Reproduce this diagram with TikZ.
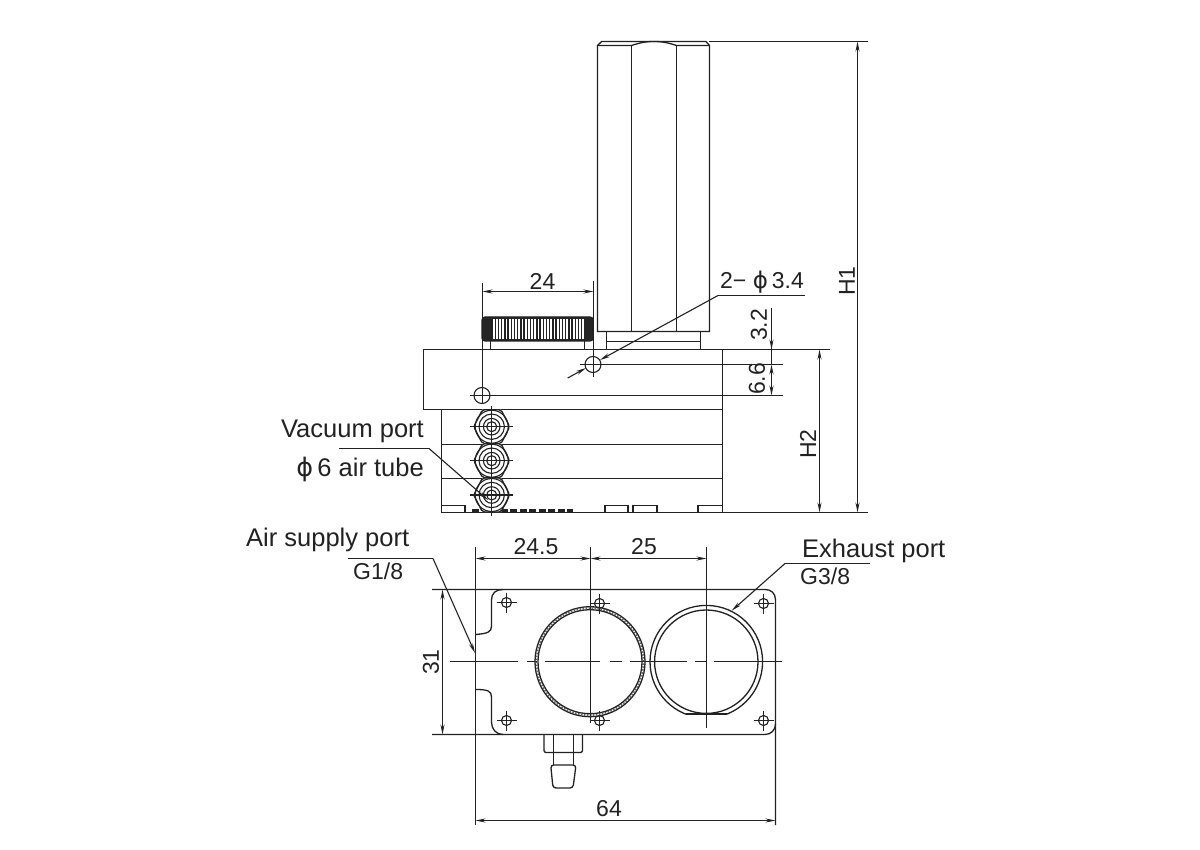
\documentclass[tikz,border=0pt]{standalone}
\usepackage{fontspec}
\setmainfont{Liberation Sans}
\newfontfamily\dejafont{DejaVu Sans}
\usetikzlibrary{arrows.meta}
\definecolor{inkline}{HTML}{222222}
\newcommand{\dia}{{\dejafont\char"03D5}}
\tikzset{
  part/.style = {draw=inkline, line width=1.3pt},
  thin part/.style = {draw=inkline, line width=1.1pt},
  dimline/.style = {draw=inkline, line width=1.1pt, <->, >={Stealth[length=10pt, width=4pt]}},
  tipline/.style = {draw=inkline, line width=1.1pt, ->, >={Stealth[length=10pt, width=4pt]}},
  label/.style = {inner sep=0pt, text=inkline, font=\fontsize{25.5}{25.5}\selectfont},
  dimtext/.style = {inner sep=0pt, text=inkline, font=\fontsize{23}{23}\selectfont}
}
\begin{document}
\begin{tikzpicture}[x=1pt, y=-1pt]
\useasboundingbox (0,0) rectangle (1200,850);
\fill[white] (0,0) rectangle (1200,850);

% cylinder
\draw[part] (597.5,331.5) -- (597.5,45.5) -- (601.7,41.5) -- (706,41.5) -- (709.5,45.5) -- (709.5,331.5) -- cycle;
\draw[part] (597.5,45.5) -- (631.5,45.5) .. controls (642,42) and (648,41.5) .. (654,41.5) .. controls (660,41.5) and (666,42) .. (676.5,45.5) -- (709.5,45.5);
\draw[part] (631.5,45.5) -- (631.5,331.5);
\draw[part] (676.5,45.5) -- (676.5,331.5);
\draw[part] (606.5,331.5) -- (606.5,349.5);
\draw[part] (700.5,331.5) -- (700.5,349.5);
\draw[part] (606.5,341.5) -- (700.5,341.5);

% knob
\draw[part, rounded corners=3pt, fill=black!85] (482,317) rectangle (593,341);
\fill[white] (492,319) rectangle (584,339);
\foreach \kx in {492,495.2,...,584} {
  \draw[line width=1.4pt, draw=inkline] (\kx,318) -- (\kx,340);
}
\draw[part] (490.5,341) -- (490.5,349.5);
\draw[part] (584.5,341) -- (584.5,349.5);

% block
\draw[part] (441.5,409.5) -- (423.5,409.5) -- (423.5,349.5) -- (830,349.5);
\draw[part] (722.5,349.5) -- (722.5,512.5);
\draw[part] (441.5,409.5) -- (722.5,409.5);
\draw[part] (441.5,409.5) -- (441.5,512.5) -- (868,512.5);
\draw[part] (441.5,444.5) -- (722.5,444.5);
\draw[part] (441.5,478.5) -- (722.5,478.5);
\foreach \fa/\fb in {441.5/465,605/628,633/657,698/722.5} {
  \draw[thin part] (\fa,512.5) -- (\fa,505.7) -- (\fb,505.7) -- (\fb,512.5);
}
\draw[line width=3pt, draw=inkline, dash pattern=on 7pt off 2.5pt] (472,510.5) -- (573,510.5);

% air tube nuts
\foreach \ny in {426.7,460.7,495} {
  \fill[white] (473.7,\ny) -- (482.5,\ny-17) -- (501,\ny-17) -- (509.7,\ny) -- (501,\ny+17) -- (482.5,\ny+17) -- cycle;
  \draw[part, rounded corners=2pt] (473.7,\ny) -- (482.5,\ny-17) -- (501,\ny-17) -- (509.7,\ny) -- (501,\ny+17) -- (482.5,\ny+17) -- cycle;
  \foreach \nr in {5,8.3,12.7,16.5} {
    \draw[thin part] (491.7,\ny) circle [radius=\nr pt];
  }
  \draw[thin part] (470,\ny) -- (513,\ny);
}
\draw[thin part] (491.5,406) -- (491.5,516);

% holes in block
\draw[thin part] (482,395.5) circle [radius=8pt];
\draw[thin part] (593,364.5) circle [radius=8pt];
\draw[thin part] (470,395.5) -- (783,395.5);
\draw[thin part] (580,364.5) -- (783,364.5);
\draw[thin part] (482.5,283) -- (482.5,404);
\draw[thin part] (593.5,281) -- (593.5,377);

% plan view plate
\draw[part] (432,589.5) -- (765,589.5) .. controls (771,589.5) and (775.5,593) .. (775.5,600) -- (775.5,825);
\draw[part] (432,734.5) -- (765,734.5) .. controls (771,734.5) and (775.5,730) .. (775.5,724);
\draw[part] (503,589.5) .. controls (496,589.5) and (491.5,593) .. (491.5,600) -- (491.5,626) .. controls (491.5,632) and (488,633.5) .. (475.5,634.5);
\draw[part] (475.5,689.5) .. controls (488,689.5) and (491.5,691) .. (491.5,697) -- (491.5,722) .. controls (491.5,729) and (496,734.5) .. (503,734.5);
\draw[part] (475.5,547) -- (475.5,825);

% bolt holes
\foreach \hx/\hy in {506.5/602.5,506.5/720.5,599.5/603.5,599.5/720.5,763.5/603.5,763.5/720.5} {
  \draw[thin part] (\hx,\hy) circle [radius=5pt];
  \draw[thin part] (\hx-10,\hy) -- (\hx+10,\hy);
  \draw[thin part] (\hx,\hy-10) -- (\hx,\hy+10);
}

% ports
\draw[part] (590,661.7) circle [radius=55pt];
\draw[part] (590,661.7) circle [radius=52pt];
\draw[draw=inkline!70, line width=1.8pt, dash pattern=on 1.5pt off 1.5pt] (590,661.7) circle [radius=53.5pt];
\begin{scope}
\clip (640,595) rectangle (775,714);
\draw[part] (706.3,661.7) circle [radius=56.3pt];
\end{scope}
\draw[part] (685.5,714) -- (727.1,714);
\draw[part] (706.3,661.7) circle [radius=51.7pt];
\draw[part] (590.5,547) -- (590.5,723);
\draw[part] (706.5,547) -- (706.5,728);
\foreach \da/\db in {450/518,527/537,545/600,610/622,630/687,695/707,714/782} {
  \draw[part] (\da,661.5) -- (\db,661.5);
}

% barb fitting
\draw[part, rounded corners=2pt] (544,735) -- (544,752.5) -- (582.5,752.5) -- (582.5,735);
\draw[part] (553.5,735) -- (553.5,765);
\draw[part] (573.5,735) -- (573.5,765);
\draw[part, rounded corners=3pt] (550.7,765) -- (576,765) -- (573,788) -- (553,788) -- cycle;

% dimensions
\draw[part] (709.3,41.5) -- (868,41.5);
\draw[dimline] (857.5,41.5) -- (857.5,512.5);
\draw[dimline] (819.5,349.5) -- (819.5,512.5);
\draw[dimline] (482.5,291.5) -- (593.5,291.5);
\draw[thin part] (771.5,308) -- (771.5,364.5);
\draw[tipline] (771.5,320) -- (771.5,349.5);
\draw[dimline] (771.5,364.5) -- (771.5,395.5);
\draw[dimline] (475.5,558.5) -- (590.5,558.5);
\draw[tipline] (640,558.5) -- (590.5,558.5);
\draw[tipline] (640,558.5) -- (706.5,558.5);
\draw[dimline] (442.5,589.5) -- (442.5,734.5);
\draw[dimline] (475.5,820.5) -- (775.5,820.5);

% leaders
\draw[thin part] (805,295.5) -- (718,295.5);
\draw[tipline] (718,295.5) -- (600,360);
\draw[tipline] (567.7,378) -- (586,368);
\draw[thin part] (339,448.5) -- (429,448.5);
\draw[tipline] (429,448.5) -- (488,500);
\draw[thin part] (348,558.5) -- (433,558.5);
\draw[tipline] (433,558.5) -- (475,653);
\draw[thin part] (870,563.5) -- (785,563.5);
\draw[tipline] (785,563.5) -- (731.7,610.7);

% texts
\node[dimtext] (lab24) at (542.5,281) {24};
\node[dimtext, anchor=west] (labhole) at (720,282) {2− \dia\,3.4};
\node[dimtext, rotate=90] (lab32) at (759,325) {3.2};
\node[dimtext, rotate=90] (lab66) at (757,379) {6.6};
\node[dimtext, rotate=90] (labh1) at (847,281) {H1};
\node[dimtext, rotate=90] (labh2) at (808,444) {H2};
\node[label, anchor=east] (labvac) at (424,431) {Vacuum port};
\node[label, anchor=east] (labtube) at (424,469) {\dia\,6 air tube};
\node[label, anchor=west] (labair) at (246,540) {Air supply port};
\node[dimtext, anchor=west] (labg1) at (353,571) {G1/8};
\node[label, anchor=west] (labexh) at (802,551) {Exhaust port};
\node[dimtext, anchor=west] (labg3) at (800,576) {G3/8};
\node[dimtext] (lab245) at (536,547) {24.5};
\node[dimtext] (lab25) at (644,547) {25};
\node[dimtext, rotate=90] (lab31) at (431,662) {31};
\node[dimtext] (lab64) at (609,809) {64};
\end{tikzpicture}
\end{document}
